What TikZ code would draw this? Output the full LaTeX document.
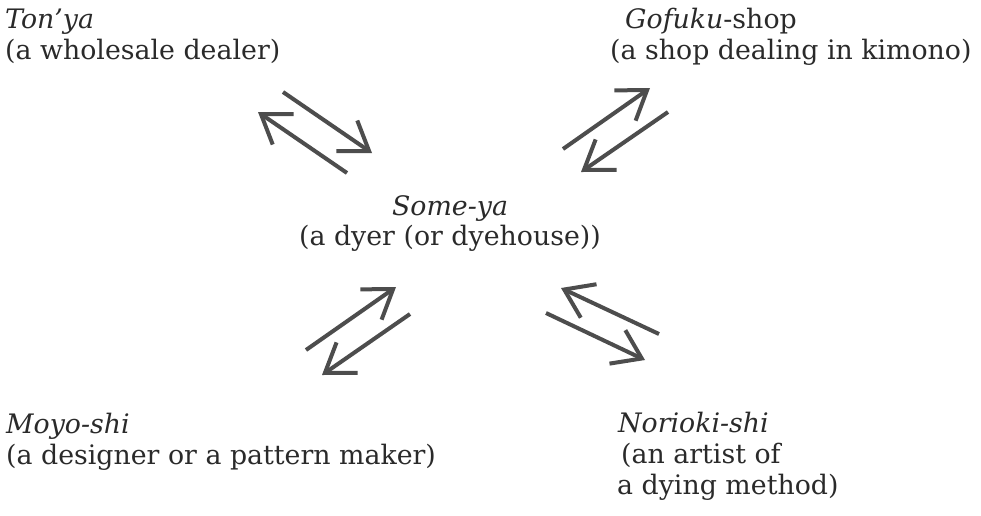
\documentclass[tikz,border=0pt]{standalone}
\usepackage{fontspec}
\setmainfont{DejaVu Serif}
\usetikzlibrary{arrows.meta}
\definecolor{arrowgray}{HTML}{4D4D4D}
\definecolor{textgray}{HTML}{2A2A2A}
\tikzset{
  lbl/.style={anchor=base west, inner sep=0pt, text=textgray, font=\fontsize{26.8}{31}\selectfont},
  lblc/.style={anchor=base, inner sep=0pt, text=textgray, font=\fontsize{26.8}{31}\selectfont},
  flow/.style={draw=arrowgray, line width=4pt, line cap=butt,
    -{Straight Barb[length=27pt, width=37pt, line join=miter]}}
}
\begin{document}
\begin{tikzpicture}[x=1pt, y=-1pt]
\useasboundingbox (0,0) rectangle (981,515);
% labels
\node[lbl] (tonya) at (5,28) {\textit{Ton'ya}};
\node[lbl] (tonyad) at (5,59) {(a wholesale dealer)};
\node[lbl] (gofuku) at (625,28) {\textit{Gofuku}-shop};
\node[lbl] (gofukud) at (610,59) {(a shop dealing in kimono)};
\node[lblc] (someya) at (450,215) {\textit{Some-ya}};
\node[lblc] (someyad) at (450,245) {(a dyer (or dyehouse))};
\node[lbl] (moyo) at (6,433) {\textit{Moyo-shi}};
\node[lbl] (moyod) at (6,464) {(a designer or a pattern maker)};
\node[lbl] (norioki) at (618,432) {\textit{Norioki-shi}};
\node[lbl] (noriokid) at (621,463) {(an artist of};
\node[lbl] (noriokie) at (617,494) {a dying method)};
% arrow end points
\coordinate (tlAs) at (347,173); \coordinate (tlAe) at (258,112);
\coordinate (tlBs) at (283,92);  \coordinate (tlBe) at (372,153);
\coordinate (trAs) at (563,149); \coordinate (trAe) at (650,88);
\coordinate (trBs) at (668,112); \coordinate (trBe) at (581,172);
\coordinate (blAs) at (306,350); \coordinate (blAe) at (396,287);
\coordinate (blBs) at (410,314); \coordinate (blBe) at (322,375);
\coordinate (brAs) at (659,334); \coordinate (brAe) at (561,288);
\coordinate (brBs) at (546,313); \coordinate (brBe) at (645,360);
% arrows
\draw[flow] (tlAs) -- (tlAe);
\draw[flow] (tlBs) -- (tlBe);
\draw[flow] (trAs) -- (trAe);
\draw[flow] (trBs) -- (trBe);
\draw[flow] (blAs) -- (blAe);
\draw[flow] (blBs) -- (blBe);
\draw[flow] (brAs) -- (brAe);
\draw[flow] (brBs) -- (brBe);
\end{tikzpicture}
\end{document}
